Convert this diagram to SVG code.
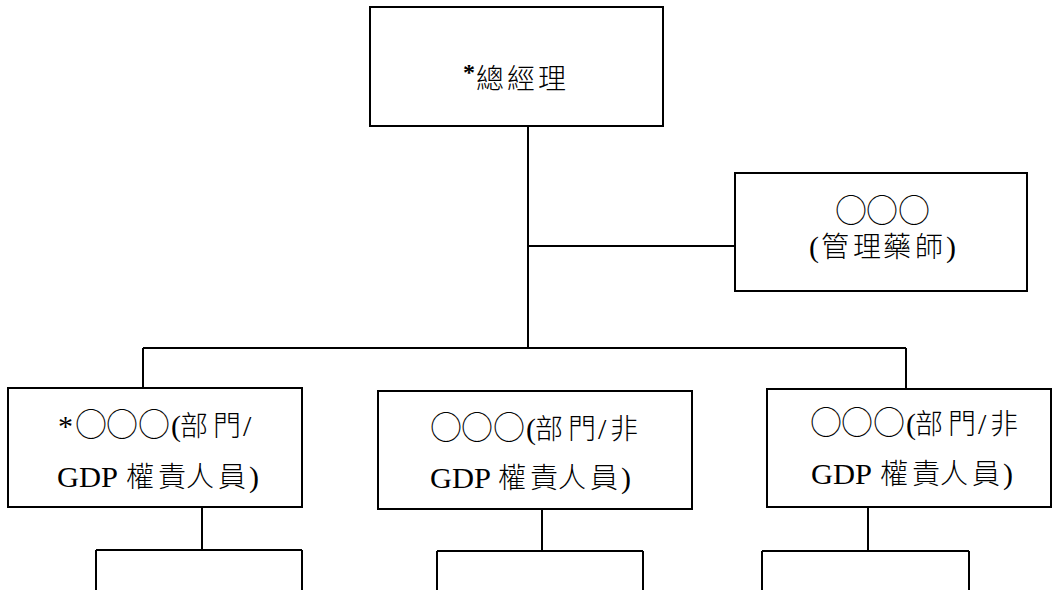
<svg xmlns="http://www.w3.org/2000/svg" width="1053" height="590" viewBox="0 0 1053 590">
<style>
.box{fill:#fff;stroke:#000;stroke-width:2}
.ln{fill:none;stroke:#000;stroke-width:2}
.t{font-family:"Liberation Serif","Times New Roman","Noto Sans CJK TC",serif;font-size:30px;fill:#000}
.c{font-family:"Noto Sans CJK TC","Noto Sans CJK SC",sans-serif;font-weight:300;font-size:28px}
.o{font-family:"Noto Sans CJK TC","Noto Sans CJK SC",sans-serif;font-weight:300;font-size:32px}
</style>
<rect width="1053" height="590" fill="#fff"/>
<g id="connectors">
<path class="ln" d="M528 126V348M528 246H735M143 348H906M143 348V388M906 348V389"/>
<path class="ln" d="M202 507V550M96 550H302M96 550V590M302 550V590"/>
<path class="ln" d="M542 509V551M437 551H643M437 551V590M643 551V590"/>
<path class="ln" d="M868 507V551M762 551H969M762 551V590M969 551V590"/>
</g>
<g id="gm">
<rect class="box" x="370" y="7" width="293" height="119"/>
<text class="t"><tspan x="463" y="80" style="font-size:24px;font-weight:bold">*</tspan><tspan class="c" x="476" y="89">總</tspan><tspan class="c" x="507" y="89">經</tspan><tspan class="c" x="538" y="89">理</tspan></text>
</g>
<g id="pharm">
<rect class="box" x="735" y="173" width="292" height="118"/>
<text class="t" y="222"><tspan class="o" x="835">○</tspan><tspan class="o" x="866">○</tspan><tspan class="o" x="898">○</tspan></text>
<text class="t" y="257"><tspan x="809">(</tspan><tspan class="c" x="821">管</tspan><tspan class="c" x="853">理</tspan><tspan class="c" x="883">藥</tspan><tspan class="c" x="915">師</tspan><tspan x="946">)</tspan></text>
</g>
<g id="dept1">
<rect class="box" x="8" y="388" width="294" height="119"/>
<text class="t" y="436"><tspan x="58">*</tspan><tspan class="o" x="75">○</tspan><tspan class="o" x="106">○</tspan><tspan class="o" x="138">○</tspan><tspan x="171">(</tspan><tspan class="c" x="180">部</tspan><tspan class="c" x="213">門</tspan><tspan x="243">/</tspan></text>
<text class="t" y="487"><tspan x="57" textLength="61" lengthAdjust="spacingAndGlyphs">GDP</tspan><tspan class="c" x="126">權</tspan><tspan class="c" x="158">責</tspan><tspan class="c" x="186">人</tspan><tspan class="c" x="218">員</tspan><tspan x="249">)</tspan></text>
</g>
<g id="dept2">
<rect class="box" x="378" y="391" width="314" height="118"/>
<text class="t" y="439"><tspan class="o" x="430">○</tspan><tspan class="o" x="461">○</tspan><tspan class="o" x="493">○</tspan><tspan x="526">(</tspan><tspan class="c" x="535">部</tspan><tspan class="c" x="568">門</tspan><tspan x="598">/</tspan><tspan class="c" x="610">非</tspan></text>
<text class="t" y="488"><tspan x="430" textLength="61" lengthAdjust="spacingAndGlyphs">GDP</tspan><tspan class="c" x="498">權</tspan><tspan class="c" x="530">責</tspan><tspan class="c" x="558">人</tspan><tspan class="c" x="590">員</tspan><tspan x="621">)</tspan></text>
</g>
<g id="dept3">
<rect class="box" x="767" y="389" width="284" height="118"/>
<text class="t" y="434"><tspan class="o" x="810">○</tspan><tspan class="o" x="841">○</tspan><tspan class="o" x="873">○</tspan><tspan x="906">(</tspan><tspan class="c" x="915">部</tspan><tspan class="c" x="948">門</tspan><tspan x="978">/</tspan><tspan class="c" x="990">非</tspan></text>
<text class="t" y="484"><tspan x="811" textLength="61" lengthAdjust="spacingAndGlyphs">GDP</tspan><tspan class="c" x="880">權</tspan><tspan class="c" x="912">責</tspan><tspan class="c" x="940">人</tspan><tspan class="c" x="972">員</tspan><tspan x="1003">)</tspan></text>
</g>
</svg>
